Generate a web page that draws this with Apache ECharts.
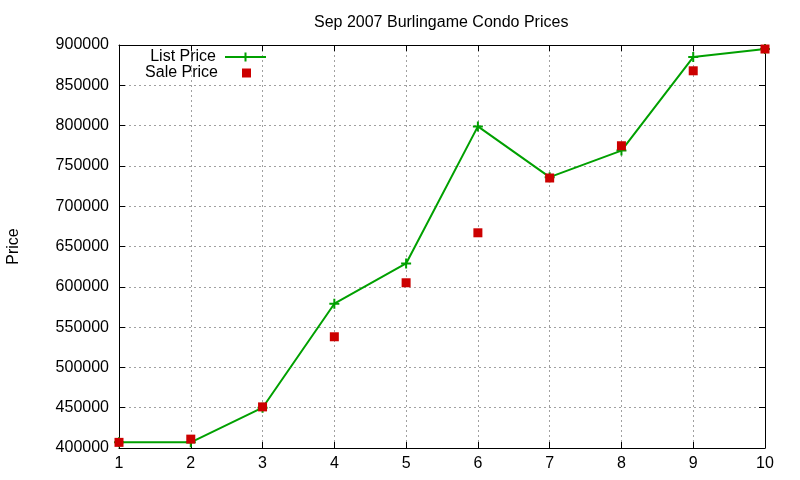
<!DOCTYPE html>
<html>
<head>
<meta charset="utf-8">
<script src="https://cdn.jsdelivr.net/npm/echarts@6/dist/echarts.min.js"></script>
<style>
  html, body { margin: 0; padding: 0; background: #fff; }
  #chart { width: 800px; height: 480px; }
</style>
</head>
<body>
<div id="chart"></div>
<script>
// condo prices, Sep 2007
var months = [1, 2, 3, 4, 5, 6, 7, 8, 9, 10];
var listPrice = [407000, 407000, 450000, 579000, 629000, 799000, 736000, 769000, 885000, 895000];
var salePrice = [407000, 411000, 451000, 538000, 605000, 667000, 735000, 775000, 868000, 895000];

var font = 'Liberation Sans, Arial, sans-serif';
var plus = 'path://M4,0H6V4H10V6H6V10H4V6H0V4H4Z';
// line sample with a plus in the middle, for the legend
var plusLine = 'path://M0,3.5H19.5V0H21.5V3.5H41V5.5H21.5V9H19.5V5.5H0Z';

function pairs(ys) {
    return months.map(function (m, i) { return [m, ys[i]]; });
}

var myChart = echarts.init(document.getElementById('chart'));

var dashed = { show: true, lineStyle: { color: '#a0a0a0', type: [2, 3], width: 1 } };
var frame = { show: true, lineStyle: { color: '#000', width: 1 } };
var tick = { show: true, inside: true, length: 6, lineStyle: { color: '#000' } };

var option = {
    backgroundColor: '#fff',
    animation: false,
    title: {
        text: 'Sep 2007 Burlingame Condo Prices',
        left: 309,
        top: 10,
        textStyle: { fontFamily: font, fontSize: 16, fontWeight: 'normal', color: '#000' }
    },
    legend: [{
        data: [{ name: 'List Price', icon: plusLine }],
        orient: 'vertical',
        align: 'right',
        right: 800 - 271,
        top: 44,
        itemWidth: 41,
        itemHeight: 9,
        textStyle: { fontFamily: font, fontSize: 16, color: '#000', padding: [0, 4, 0, 0] }
    }, {
        data: [{ name: 'Sale Price', icon: 'rect' }],
        orient: 'vertical',
        align: 'right',
        right: 800 - 256,
        top: 60,
        itemWidth: 9,
        itemHeight: 9,
        textStyle: { fontFamily: font, fontSize: 16, color: '#000', padding: [0, 19, 0, 0] }
    }],
    grid: { left: 119, right: 35, top: 45, bottom: 32, outerBoundsMode: 'none' },
    xAxis: [{
        type: 'value',
        min: 1,
        max: 10,
        interval: 1,
        axisLine: frame,
        axisTick: tick,
        splitLine: dashed,
        axisLabel: { fontFamily: font, fontSize: 16, color: '#000', margin: 8 }
    }, {
        type: 'value',
        position: 'top',
        min: 1,
        max: 10,
        interval: 1,
        axisLine: frame,
        axisTick: tick,
        splitLine: { show: false },
        axisLabel: { show: false }
    }],
    yAxis: [{
        type: 'value',
        name: 'Price',
        nameLocation: 'middle',
        nameGap: 97,
        nameTextStyle: { fontFamily: font, fontSize: 16, color: '#000' },
        min: 400000,
        max: 900000,
        interval: 50000,
        axisLine: frame,
        axisTick: tick,
        splitLine: dashed,
        axisLabel: {
            fontFamily: font, fontSize: 16, color: '#000', margin: 10,
            formatter: function (v) { return String(v); }
        }
    }, {
        type: 'value',
        position: 'right',
        min: 400000,
        max: 900000,
        interval: 50000,
        axisLine: frame,
        axisTick: tick,
        splitLine: { show: false },
        axisLabel: { show: false }
    }],
    series: [{
        name: 'List Price',
        type: 'line',
        data: pairs(listPrice),
        symbol: plus,
        symbolSize: 10,
        showAllSymbol: true,
        itemStyle: { color: '#00a000' },
        lineStyle: { color: '#00a000', width: 2 },
        z: 3
    }, {
        name: 'Sale Price',
        type: 'scatter',
        data: pairs(salePrice),
        symbol: 'rect',
        symbolSize: 9,
        itemStyle: { color: '#cc0000', opacity: 1 },
        z: 4
    }]
};
myChart.setOption(option);
</script>
</body>
</html>
